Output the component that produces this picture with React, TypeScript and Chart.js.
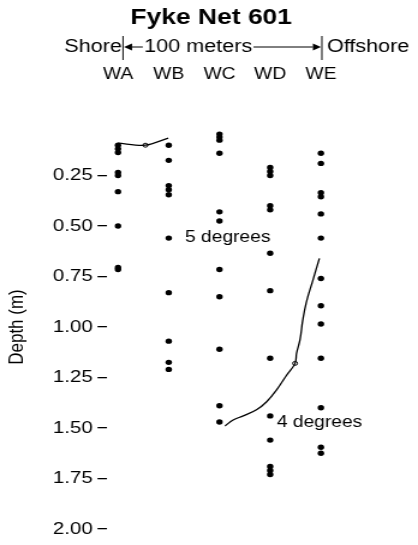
import React, { useEffect, useRef } from "react";
import { Chart, registerables } from "chart.js";

Chart.register(...registerables);

// ---------- data ----------
const stations = ["WA", "WB", "WC", "WD", "WE"];
const depthTicks = [0.25, 0.5, 0.75, 1.0, 1.25, 1.5, 1.75, 2.0];

const depthsWA = [0.1, 0.118, 0.136, 0.235, 0.25, 0.33, 0.5, 0.705, 0.715];
const depthsWB = [0.1, 0.175, 0.3, 0.32, 0.345, 0.56, 0.83, 1.07, 1.175, 1.21];
const depthsWC = [0.045, 0.06, 0.075, 0.14, 0.43, 0.475, 0.715, 0.85, 1.11, 1.39, 1.47];
const depthsWD = [0.21, 0.23, 0.25, 0.4, 0.42, 0.635, 0.82, 1.155, 1.44, 1.56, 1.69, 1.71, 1.73];
const depthsWE = [0.14, 0.19, 0.335, 0.355, 0.44, 0.56, 0.76, 0.895, 0.985, 1.155, 1.4, 1.595, 1.625];

// isotherm traces (x = station position, y = depth)
const iso5X = [0.0, 0.54, 0.99];
const iso5Y = [0.09, 0.1, 0.065];
const iso4X = [3.97, 3.84, 3.71, 3.64, 3.59, 3.52, 3.49, 3.32, 3.13, 2.93, 2.73, 2.47, 2.27, 2.11];
const iso4Y = [0.66, 0.77, 0.88, 0.97, 1.06, 1.13, 1.18, 1.24, 1.31, 1.37, 1.41, 1.44, 1.46, 1.49];
const markerX = [0.54, 3.49];
const markerY = [0.1, 1.18];

const annotationTexts = ["5 degrees", "4 degrees"];
const annotationX = [1.32, 3.13];
const annotationY = [0.555, 1.475];

const shoreLabel = "Shore";
const offshoreLabel = "Offshore";
const distanceLabel = "100 meters";
const titleText = "Fyke Net 601";
const yTitle = "Depth (m)";

// ---------- layout ----------
const FONT = "'Liberation Sans', Arial, Helvetica, sans-serif";
const SX = 1.2; // horizontal stretch of the original scan
const W = Math.round(418 / SX);
const H = 545;

const depthsByStation = [depthsWA, depthsWB, depthsWC, depthsWD, depthsWE];

const headerPlugin = {
  id: "header",
  afterDraw(chart: any) {
    const { ctx } = chart;
    const xs = chart.scales.x;
    const ys = chart.scales.y;
    ctx.save();
    ctx.strokeStyle = "#000";
    ctx.fillStyle = "#000";
    // title
    ctx.font = `bold 22px ${FONT}`;
    ctx.textAlign = "center";
    ctx.textBaseline = "middle";
    ctx.fillText(titleText, 211 / SX, 18);

    const xL = xs.getPixelForValue(0) + 5 / SX;
    const xR = xs.getPixelForValue(4) + 1 / SX;
    const y = 47;
    ctx.lineWidth = 1;
    [xL, xR].forEach((x) => {
      ctx.beginPath();
      ctx.moveTo(x, 36);
      ctx.lineTo(x, 60);
      ctx.stroke();
    });
    ctx.font = `18px ${FONT}`;
    ctx.textAlign = "right";
    ctx.fillText(shoreLabel, xL - 1 / SX, y);
    ctx.textAlign = "left";
    ctx.fillText(offshoreLabel, xR + 5 / SX, y);
    const tStart = xL + 21 / SX;
    const tw = ctx.measureText(distanceLabel).width;
    ctx.fillText(distanceLabel, tStart, y);
    const ah = 8 / SX;
    const lx = xL + 1 / SX;
    ctx.beginPath();
    ctx.moveTo(lx + ah, y);
    ctx.lineTo(tStart - 1, y);
    ctx.stroke();
    ctx.beginPath();
    ctx.moveTo(lx, y);
    ctx.lineTo(lx + ah, y - 3.5);
    ctx.lineTo(lx + ah, y + 3.5);
    ctx.closePath();
    ctx.fill();
    const rx = xR - 1 / SX;
    ctx.beginPath();
    ctx.moveTo(tStart + tw + 1, y);
    ctx.lineTo(rx - ah, y);
    ctx.stroke();
    ctx.beginPath();
    ctx.moveTo(rx, y);
    ctx.lineTo(rx - ah, y - 3.5);
    ctx.lineTo(rx - ah, y + 3.5);
    ctx.closePath();
    ctx.fill();

    ctx.font = `16px ${FONT}`;
    ctx.textAlign = "left";
    annotationTexts.forEach((t, i) => {
      ctx.fillText(t, xs.getPixelForValue(annotationX[i]), ys.getPixelForValue(annotationY[i]));
    });
    ctx.restore();
  },
};

export default function App() {
  const canvasRef = useRef<HTMLCanvasElement | null>(null);

  useEffect(() => {
    if (!canvasRef.current) return;
    const dots = depthsByStation.flatMap((arr, i) => arr.map((d) => ({ x: i, y: d })));
    const chart = new Chart(canvasRef.current, {
      type: "scatter",
      data: {
        datasets: [
          {
            data: dots,
            pointRadius: 2.7,
            backgroundColor: "#000",
            borderWidth: 0,
          },
          {
            data: iso5X.map((x, i) => ({ x, y: iso5Y[i] })),
            showLine: true,
            borderColor: "#000",
            borderWidth: 1.2,
            pointRadius: 0,
            tension: 0.3,
          },
          {
            data: iso4X.map((x, i) => ({ x, y: iso4Y[i] })),
            showLine: true,
            borderColor: "#000",
            borderWidth: 1.3,
            pointRadius: 0,
            tension: 0.4,
          },
          {
            data: markerX.map((x, i) => ({ x, y: markerY[i] })),
            pointRadius: 2,
            backgroundColor: "#fff",
            borderColor: "#000",
            borderWidth: 1,
          },
        ],
      },
      options: {
        responsive: false,
        animation: false,
        devicePixelRatio: 1,
        layout: { padding: { left: 0, right: W - 351 / SX, top: 0, bottom: H - 529 } },
        plugins: {
          legend: { display: false },
          tooltip: { enabled: false },
          title: { display: false },
        },
        scales: {
          x: {
            type: "linear",
            position: "top",
            min: -0.215,
            max: 4.6,
            afterBuildTicks: (s: any) => {
              s.ticks = stations.map((_, i) => ({ value: i }));
            },
            ticks: {
              callback: (v: any) => stations[v] ?? "",
              color: "#000",
              font: { family: FONT, size: 16 },
              padding: 41,
              maxRotation: 0,
              autoSkip: false,
            },
            grid: { display: false, drawTicks: false },
            border: { display: false },
            afterFit: (s: any) => {
              s.height = 125;
            },
          },
          y: {
            type: "linear",
            reverse: true,
            min: 0,
            max: 2,
            afterBuildTicks: (s: any) => {
              s.ticks = depthTicks.map((v) => ({ value: v }));
            },
            ticks: {
              callback: (v: any) => Number(v).toFixed(2),
              color: "#000",
              font: { family: FONT, size: 17 },
              padding: 4,
              autoSkip: false,
            },
            grid: { drawOnChartArea: false, drawTicks: true, tickLength: 8, tickColor: "#000", lineWidth: 1.3 },
            border: { display: false },
            title: {
              display: true,
              text: yTitle,
              color: "#000",
              font: { family: FONT, size: 17 },
              padding: { top: 4, bottom: 0 },
            },
            afterFit: (s: any) => {
              s.width = 107 / SX;
            },
          },
        },
      } as any,
      plugins: [headerPlugin],
    });
    return () => chart.destroy();
  }, []);

  return (
    <div style={{ position: "absolute", left: 0, top: 0, width: 418, height: H, background: "#fff" }}>
      <canvas
        ref={canvasRef}
        width={W}
        height={H}
        style={{ width: "418px", height: `${H}px`, display: "block" }}
      />
    </div>
  );
}
